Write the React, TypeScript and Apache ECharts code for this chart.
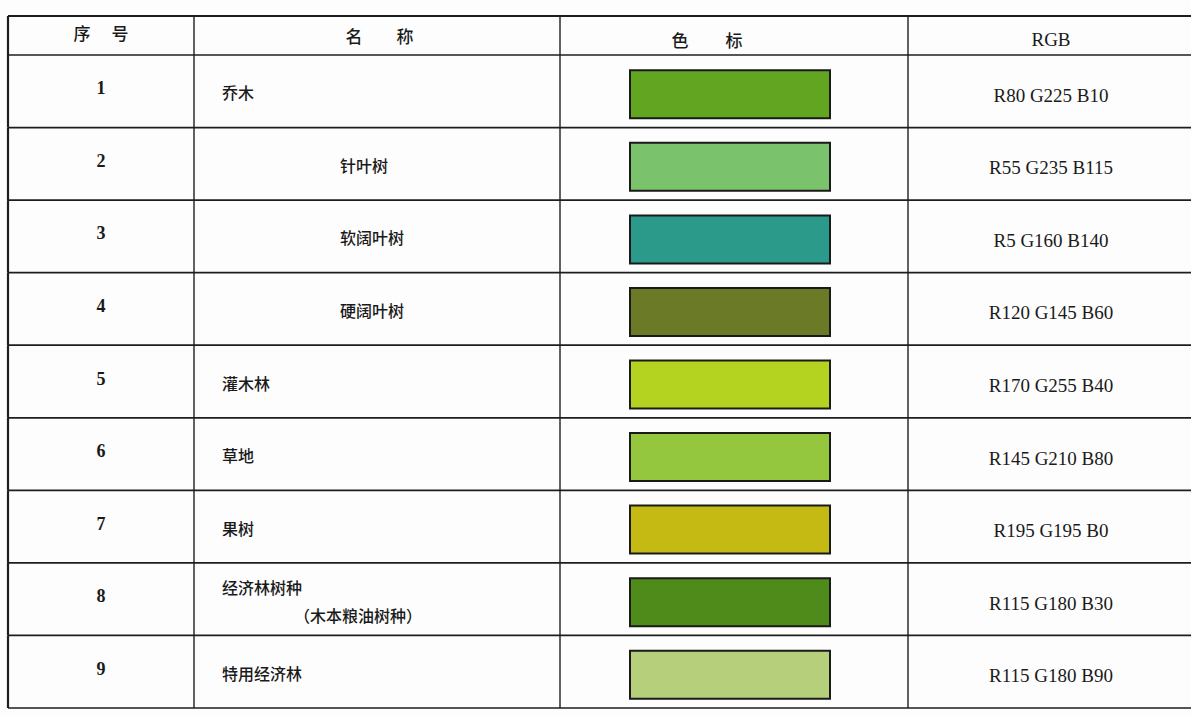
import React, { useEffect, useRef } from "react";
import * as echarts from "echarts";

const rowNumbers = ["1", "2", "3", "4", "5", "6", "7", "8", "9"];
const names = ["乔木", "针叶树", "软阔叶树", "硬阔叶树", "灌木林", "草地", "果树", "经济林树种", "特用经济林"];
const nameSubLines = ["", "", "", "", "", "", "", "（木本粮油树种）", ""];
const nameLevels = [0, 1, 1, 1, 0, 0, 0, 0, 0];
const swatchColors = ["#62a520", "#7bc26c", "#2b9a8b", "#6b7a26", "#b4d220", "#94c63e", "#c5ba14", "#4f8b1b", "#b6cf7a"];
const rgbLabels = [
  "R80 G225 B10",
  "R55 G235 B115",
  "R5 G160 B140",
  "R120 G145 B60",
  "R170 G255 B40",
  "R145 G210 B80",
  "R195 G195 B0",
  "R115 G180 B30",
  "R115 G180 B90",
];
const headerLabels = ["序", "号", "名", "称", "色", "标", "RGB"];

const LINE = "#1e1e1e";
const TEXT = "#1a1a1a";
const CJK = "'Noto Sans CJK SC', sans-serif";
const SERIF = "'Liberation Serif', 'DejaVu Serif', serif";
const colX = [8, 194, 560, 908];

export default function App() {
  const ref = useRef<HTMLDivElement>(null);
  useEffect(() => {
    if (!ref.current) return;
    const chart = echarts.init(ref.current, null, { renderer: "svg" });

    const renderItem = (params: any, api: any) => {
      const i = api.value(1);
      const cy = api.coord([0, i])[1];
      const h = api.size([0, 1])[1];
      const X = (v: number) => api.coord([v, i])[0];
      const top = cy - h / 2;
      const bottom = cy + h / 2;
      const children: any[] = [];
      children.push({
        type: "line",
        shape: { x1: X(8), y1: bottom, x2: X(1191), y2: bottom },
        style: { stroke: LINE, lineWidth: 1.7 },
      });
      if (i === 0) {
        children.push({
          type: "line",
          shape: { x1: X(8), y1: top, x2: X(1191), y2: top },
          style: { stroke: LINE, lineWidth: 1.7 },
        });
      }
      colX.forEach((cx, k) => {
        children.push({
          type: "line",
          shape: { x1: X(cx), y1: top, x2: X(cx), y2: bottom },
          style: { stroke: LINE, lineWidth: k === 0 ? 2.2 : 1.4 },
        });
      });
      children.push({
        type: "text",
        style: {
          text: rowNumbers[i],
          x: X(101),
          y: cy - 3,
          fill: TEXT,
          fontSize: 18,
          fontFamily: SERIF,
          fontWeight: "bold",
          align: "center",
          verticalAlign: "middle",
        },
      });
      const hasSub = nameSubLines[i] !== "";
      children.push({
        type: "text",
        style: {
          text: names[i],
          x: X(222 + nameLevels[i] * 118),
          y: hasSub ? cy - 12 : cy + 1,
          fill: TEXT,
          fontSize: 16,
          fontFamily: CJK,
          fontWeight: 500,
          align: "left",
          verticalAlign: "middle",
        },
      });
      if (hasSub) {
        children.push({
          type: "text",
          style: {
            text: nameSubLines[i],
            x: X(294),
            y: cy + 16,
            fill: TEXT,
            fontSize: 16,
            fontFamily: CJK,
            fontWeight: 500,
            align: "left",
            verticalAlign: "middle",
          },
        });
      }
      children.push({
        type: "rect",
        shape: { x: X(630), y: cy - 21, width: X(830) - X(630), height: 48 },
        style: { fill: swatchColors[i], stroke: "#1a1a1a", lineWidth: 2 },
      });
      children.push({
        type: "text",
        style: {
          text: rgbLabels[i],
          x: X(1051),
          y: cy + 4,
          fill: TEXT,
          fontSize: 19,
          fontFamily: SERIF,
          align: "center",
          verticalAlign: "middle",
        },
      });
      return { type: "group", children };
    };

    const headerPos = [82, 120, 354, 405, 680, 734, 1051];
    const headerY = [32, 32, 35, 35, 39, 39, 39];
    const graphic: any[] = [
      {
        type: "line",
        shape: { x1: 8, y1: 16, x2: 1191, y2: 16 },
        style: { stroke: LINE, lineWidth: 2 },
      },
      ...colX.map((cx, k) => ({
        type: "line",
        shape: { x1: cx, y1: 16, x2: cx, y2: 55 },
        style: { stroke: LINE, lineWidth: k === 0 ? 2.2 : 1.4 },
      })),
      ...headerLabels.map((t, k) => ({
        type: "text",
        x: headerPos[k],
        y: headerY[k],
        style: {
          text: t,
          fill: TEXT,
          fontSize: t === "RGB" ? 19 : 17,
          fontFamily: t === "RGB" ? SERIF : CJK,
          fontWeight: t === "RGB" ? "normal" : 500,
          align: "center",
          verticalAlign: "middle",
        },
      })),
    ];

    chart.setOption({
      animation: false,
      backgroundColor: "#fdfdfd",
      grid: { left: 0, right: 0, top: 55, bottom: 7 },
      xAxis: { type: "value", min: 0, max: 1191, show: false },
      yAxis: { type: "category", data: rowNumbers, inverse: true, show: false },
      graphic,
      series: [
        {
          type: "custom",
          renderItem,
          data: rowNumbers.map((_, i) => [0, i]),
          encode: { x: 0, y: 1 },
        },
      ],
    });
    return () => chart.dispose();
  }, []);
  return (
    <div
      ref={ref}
      style={{ position: "fixed", left: 0, top: 0, width: 1191, height: 715 }}
    />
  );
}
